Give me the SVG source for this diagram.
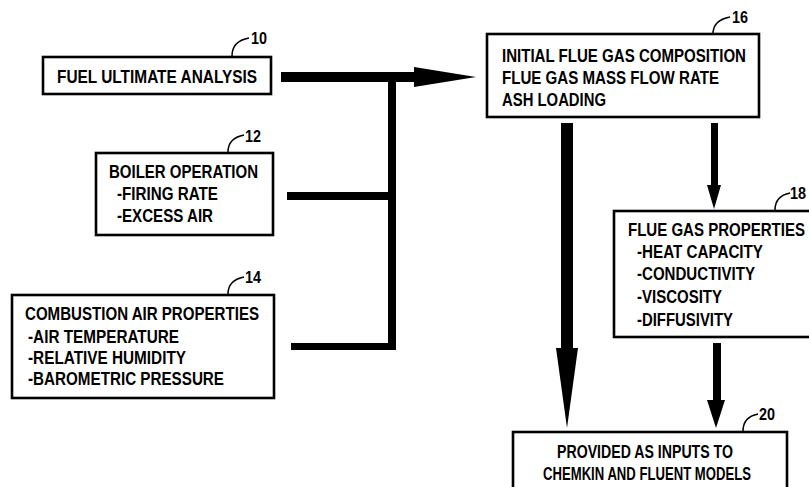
<svg xmlns="http://www.w3.org/2000/svg" width="809" height="487" viewBox="0 0 809 487">
<style>
  .box { fill: #fff; stroke: #000; stroke-width: 2.6; }
  .t { font-family: "Liberation Sans", Arial, sans-serif; font-weight: bold; font-size: 18px; fill: #000; }
  .lbl { font-family: "Liberation Sans", Arial, sans-serif; font-weight: bold; font-size: 17px; fill: #000; }
  .lead { fill: none; stroke: #000; stroke-width: 1.5; }
  .conn { fill: #000; stroke: none; }
</style>
<rect width="809" height="487" fill="#fff"/>

<g id="connectors">
  <rect class="conn" x="281" y="72" width="135" height="10"/>
  <polygon class="conn" points="414,67 476,77 414,87"/>
  <rect class="conn" x="388" y="77" width="8" height="273"/>
  <rect class="conn" x="287" y="192" width="109" height="8"/>
  <rect class="conn" x="291" y="343" width="105" height="7"/>
  <rect class="conn" x="561" y="123" width="12" height="227"/>
  <polygon class="conn" points="556,348 578,348 567,428"/>
  <rect class="conn" x="711" y="123" width="7" height="63"/>
  <polygon class="conn" points="707,185 721,185 714,209"/>
  <rect class="conn" x="713" y="343" width="8" height="58"/>
  <polygon class="conn" points="707,400 725,400 716,428"/>
</g>

<g id="node10">
  <rect class="box" x="43" y="57" width="228" height="37"/>
  <text class="t" x="57" y="83" textLength="200" lengthAdjust="spacingAndGlyphs">FUEL ULTIMATE ANALYSIS</text>
  <path class="lead" d="M232,56 C232,46 238,40 249,38"/>
  <text class="lbl" x="251" y="44" textLength="16" lengthAdjust="spacingAndGlyphs">10</text>
</g>

<g id="node12">
  <rect class="box" x="96" y="153" width="177" height="82"/>
  <text class="t" x="109" y="178" textLength="149" lengthAdjust="spacingAndGlyphs">BOILER OPERATION</text>
  <text class="t" x="117" y="200" textLength="101" lengthAdjust="spacingAndGlyphs">-FIRING RATE</text>
  <text class="t" x="117" y="222" textLength="96" lengthAdjust="spacingAndGlyphs">-EXCESS AIR</text>
  <path class="lead" d="M228,152 C228,142 234,137 244,135"/>
  <text class="lbl" x="245" y="142" textLength="16" lengthAdjust="spacingAndGlyphs">12</text>
</g>

<g id="node14">
  <rect class="box" x="12" y="295" width="262" height="103"/>
  <text class="t" x="25" y="320" textLength="234" lengthAdjust="spacingAndGlyphs">COMBUSTION AIR PROPERTIES</text>
  <text class="t" x="28" y="343" textLength="151" lengthAdjust="spacingAndGlyphs">-AIR TEMPERATURE</text>
  <text class="t" x="28" y="364" textLength="158" lengthAdjust="spacingAndGlyphs">-RELATIVE HUMIDITY</text>
  <text class="t" x="28" y="385" textLength="196" lengthAdjust="spacingAndGlyphs">-BAROMETRIC PRESSURE</text>
  <path class="lead" d="M228,294 C228,284 234,279 244,277"/>
  <text class="lbl" x="245" y="283" textLength="16" lengthAdjust="spacingAndGlyphs">14</text>
</g>

<g id="node16">
  <rect class="box" x="487" y="34" width="272" height="83"/>
  <text class="t" x="502" y="62" textLength="244" lengthAdjust="spacingAndGlyphs">INITIAL FLUE GAS COMPOSITION</text>
  <text class="t" x="502" y="84" textLength="217" lengthAdjust="spacingAndGlyphs">FLUE GAS MASS FLOW RATE</text>
  <text class="t" x="502" y="106" textLength="104" lengthAdjust="spacingAndGlyphs">ASH LOADING</text>
  <path class="lead" d="M713,34 C713,24 719,19 730,17"/>
  <text class="lbl" x="732" y="23" textLength="16" lengthAdjust="spacingAndGlyphs">16</text>
</g>

<g id="node18">
  <rect class="box" x="614" y="211" width="210" height="126"/>
  <text class="t" x="628" y="236" textLength="177" lengthAdjust="spacingAndGlyphs">FLUE GAS PROPERTIES</text>
  <text class="t" x="637" y="258" textLength="126" lengthAdjust="spacingAndGlyphs">-HEAT CAPACITY</text>
  <text class="t" x="637" y="280" textLength="118" lengthAdjust="spacingAndGlyphs">-CONDUCTIVITY</text>
  <text class="t" x="637" y="303" textLength="85" lengthAdjust="spacingAndGlyphs">-VISCOSITY</text>
  <text class="t" x="637" y="326" textLength="96" lengthAdjust="spacingAndGlyphs">-DIFFUSIVITY</text>
  <path class="lead" d="M775,210 C775,200 780,195 790,193"/>
  <text class="lbl" x="790" y="199" textLength="16" lengthAdjust="spacingAndGlyphs">18</text>
</g>

<g id="node20">
  <rect class="box" x="513" y="432" width="274" height="70"/>
  <text class="t" x="557" y="458" textLength="176" lengthAdjust="spacingAndGlyphs">PROVIDED AS INPUTS TO</text>
  <text class="t" x="543" y="480" textLength="208" lengthAdjust="spacingAndGlyphs">CHEMKIN AND FLUENT MODELS</text>
  <path class="lead" d="M743,431 C743,421 748,416 758,414"/>
  <text class="lbl" x="759" y="420" textLength="16" lengthAdjust="spacingAndGlyphs">20</text>
</g>
</svg>
